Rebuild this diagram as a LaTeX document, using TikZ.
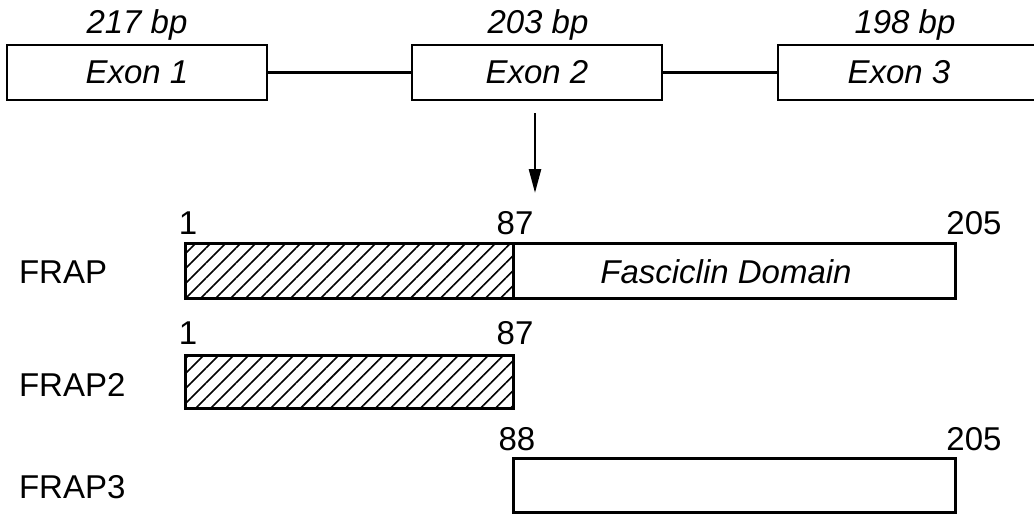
\documentclass[tikz,border=0pt]{standalone}
\usepackage{fontspec}
\setmainfont{Liberation Sans}
\usetikzlibrary{arrows.meta,patterns.meta}

\begin{document}
\begin{tikzpicture}[x=0.5pt, y=-0.5pt,
  every node/.style={font=\fontsize{16.5}{19}\selectfont},
  exonbox/.style={draw, line width=1.4pt, minimum height=27.5pt, inner sep=0pt, font=\fontsize{16.5}{19}\selectfont\itshape},
  bplabel/.style={anchor=base, font=\fontsize{16.5}{19}\selectfont\itshape},
  hatchbox/.style={draw, line width=1.5pt, inner sep=0pt, pattern={Lines[angle=45,distance=5.3pt,line width=0.8pt]}},
  plainbox/.style={draw, line width=1.5pt, inner sep=0pt, fill=white}]
  \useasboundingbox (0,0) rectangle (1034,514);

  % gene: three exons
  \node[exonbox, minimum width=130pt] (exon1) at (137,72.5) {Exon 1};
  \node[exonbox, minimum width=125pt] (exon2) at (537,72.5) {Exon 2};
  \node[exonbox, minimum width=140pt] (exon3) at (918,72.5) {};
  \node[font=\fontsize{16.5}{19}\selectfont\itshape] (exon3txt) at (899,72.5) {Exon 3};
  \draw[line width=1.2pt] (exon1) -- (exon2);
  \draw[line width=1.2pt] (exon2) -- (exon3);

  \node[bplabel] (bp1) at (137,33) {217 bp};
  \node[bplabel] (bp2) at (538,33) {203 bp};
  \node[bplabel] (bp3) at (905,33) {198 bp};

  \coordinate (arrowtop) at (535,113);
  \coordinate (arrowtip) at (535,193);
  \draw[line width=1.3pt, -{Triangle[length=12pt,width=6pt]}] (arrowtop) -- (arrowtip);

  % proteins
  \node[hatchbox, minimum width=164pt, minimum height=27.5pt] (frapN) at (349,270.5) {};
  \node[plainbox, minimum width=221pt, minimum height=27.5pt] (frapC) at (734,270.5) {};
  \node[font=\fontsize{16.5}{19}\selectfont\itshape] (fasdom) at (726,272) {Fasciclin Domain};
  \node[hatchbox, minimum width=164pt, minimum height=26.5pt] (frap2N) at (349,381.5) {};
  \node[plainbox, minimum width=221pt, minimum height=27pt] (frap3C) at (734,485) {};

  \node[anchor=west] (frap) at (12,272) {FRAP};
  \node[anchor=west] (frap2) at (12,385) {FRAP2};
  \node[anchor=west] (frap3) at (12,487) {FRAP3};

  \node (n1a) at (188,223) {1};
  \node (n87a) at (515,223) {87};
  \node (n205a) at (974,223) {205};
  \node (n1b) at (188,333) {1};
  \node (n87b) at (515,333) {87};
  \node (n88) at (517,439) {88};
  \node (n205b) at (974,439) {205};
\end{tikzpicture}
\end{document}
